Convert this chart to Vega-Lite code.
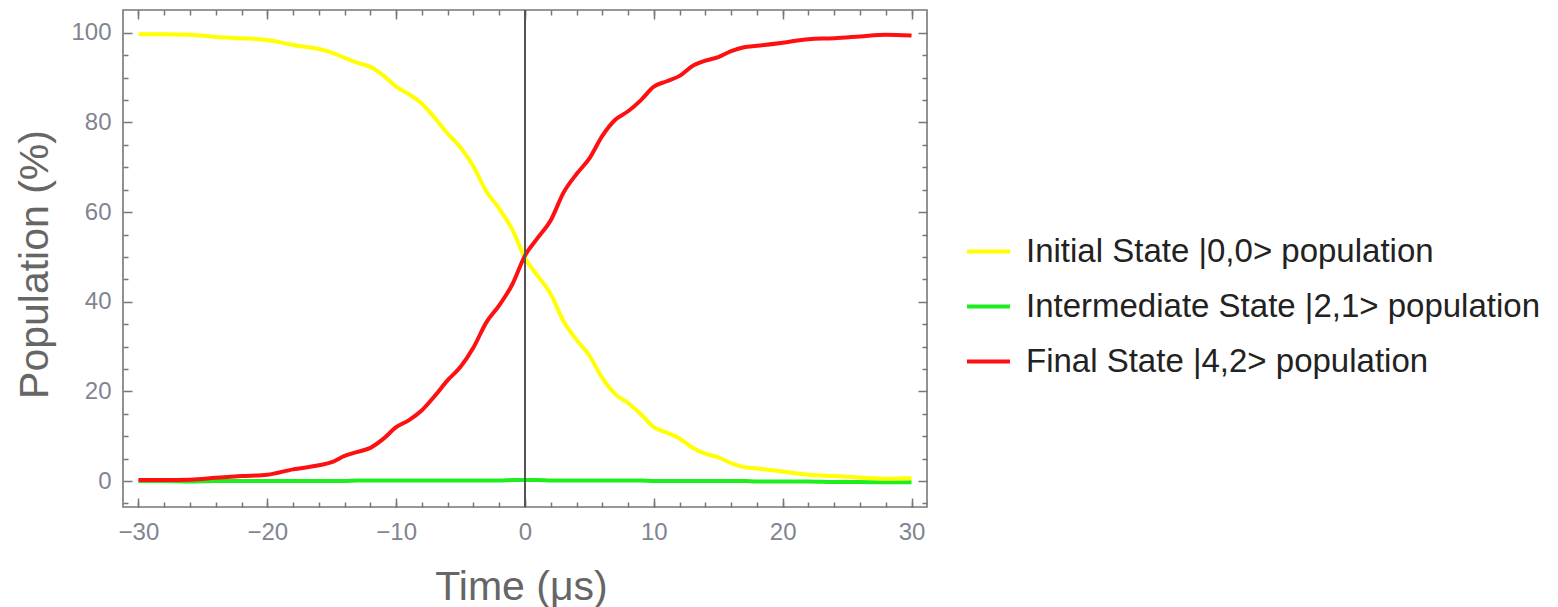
{
  "$schema": "https://vega.github.io/schema/vega-lite/v6.json",
  "width": 804,
  "height": 497,
  "autosize": "none",
  "padding": {"left": 123, "top": 10, "right": 631, "bottom": 100},
  "config": {
    "view": {"stroke": "#777777", "strokeWidth": 1.6},
    "font": "Liberation Sans",
    "axis": {"domain": false, "grid": false, "tickColor": "#777777", "tickWidth": 1.5, "labelFont": "Liberation Sans", "titleFont": "Liberation Sans", "labelColor": "#7f8590", "titleColor": "#666666", "labelFontSize": 24, "titleFontSize": 41, "titleFontWeight": "normal"}
  },
  "datasets": {
    "pop": [
      {"t": -30, "a": 99.7, "b": 0.0, "c": 0.2},
      {"t": -28, "a": 99.7, "b": 0.0, "c": 0.2},
      {"t": -26, "a": 99.6, "b": -0.1, "c": 0.3},
      {"t": -24, "a": 99.1, "b": 0.0, "c": 0.7},
      {"t": -22, "a": 98.8, "b": 0.0, "c": 1.1},
      {"t": -20, "a": 98.4, "b": 0.0, "c": 1.4},
      {"t": -18, "a": 97.3, "b": 0.0, "c": 2.6},
      {"t": -16, "a": 96.4, "b": 0.0, "c": 3.5},
      {"t": -15, "a": 95.6, "b": 0.0, "c": 4.2},
      {"t": -14, "a": 94.4, "b": 0.0, "c": 5.6},
      {"t": -13, "a": 93.3, "b": 0.1, "c": 6.5},
      {"t": -12, "a": 92.4, "b": 0.1, "c": 7.4},
      {"t": -11, "a": 90.5, "b": 0.1, "c": 9.4},
      {"t": -10, "a": 88.0, "b": 0.1, "c": 12.0},
      {"t": -9, "a": 86.3, "b": 0.1, "c": 13.6},
      {"t": -8, "a": 84.2, "b": 0.1, "c": 15.8},
      {"t": -7, "a": 81.0, "b": 0.1, "c": 19.0},
      {"t": -6, "a": 77.5, "b": 0.1, "c": 22.5},
      {"t": -5, "a": 74.4, "b": 0.1, "c": 25.5},
      {"t": -4, "a": 70.2, "b": 0.1, "c": 29.8},
      {"t": -3, "a": 64.6, "b": 0.1, "c": 35.4},
      {"t": -2, "a": 60.8, "b": 0.1, "c": 39.2},
      {"t": -1, "a": 56.2, "b": 0.2, "c": 43.8},
      {"t": 0, "a": 49.8, "b": 0.2, "c": 50.3},
      {"t": 1, "a": 45.7, "b": 0.2, "c": 54.3},
      {"t": 2, "a": 41.7, "b": 0.1, "c": 58.2},
      {"t": 3, "a": 35.6, "b": 0.1, "c": 64.4},
      {"t": 4, "a": 31.5, "b": 0.1, "c": 68.5},
      {"t": 5, "a": 28.0, "b": 0.1, "c": 72.0},
      {"t": 6, "a": 23.0, "b": 0.1, "c": 77.0},
      {"t": 7, "a": 19.4, "b": 0.1, "c": 80.6},
      {"t": 8, "a": 17.4, "b": 0.1, "c": 82.5},
      {"t": 9, "a": 14.9, "b": 0.1, "c": 85.0},
      {"t": 10, "a": 12.0, "b": 0.0, "c": 88.0},
      {"t": 11, "a": 10.8, "b": 0.0, "c": 89.2},
      {"t": 12, "a": 9.5, "b": 0.0, "c": 90.4},
      {"t": 13, "a": 7.4, "b": 0.0, "c": 92.6},
      {"t": 14, "a": 6.1, "b": 0.0, "c": 93.8},
      {"t": 15, "a": 5.3, "b": 0.0, "c": 94.6},
      {"t": 16, "a": 4.0, "b": 0.0, "c": 95.9},
      {"t": 17, "a": 3.1, "b": 0.0, "c": 96.8},
      {"t": 18, "a": 2.8, "b": -0.1, "c": 97.1},
      {"t": 20, "a": 2.1, "b": -0.1, "c": 97.8},
      {"t": 22, "a": 1.4, "b": -0.1, "c": 98.6},
      {"t": 24, "a": 1.1, "b": -0.2, "c": 98.8},
      {"t": 26, "a": 0.8, "b": -0.2, "c": 99.2},
      {"t": 28, "a": 0.5, "b": -0.3, "c": 99.6},
      {"t": 30, "a": 0.6, "b": -0.3, "c": 99.4}
    ]
  },
  "data": {"name": "pop"},
  "transform": [{"fold": ["b", "a", "c"], "as": ["state", "value"]}],
  "layer": [
    {
      "mark": {"type": "line", "strokeWidth": 4, "interpolate": "monotone"},
      "encoding": {
        "x": {"field": "t", "type": "quantitative",
          "scale": {"domain": [-31.2, 31.2], "nice": false, "zero": false},
          "axis": {"orient": "bottom", "values": [-30, -20, -10, 0, 10, 20, 30], "tickSize": -9, "labelPadding": 22, "title": "Time (μs)", "titleBaseline": "alphabetic", "titleY": 92, "titleX": 398}},
        "y": {"field": "value", "type": "quantitative",
          "scale": {"domain": [-5.8, 105.1], "nice": false, "zero": false},
          "axis": {"orient": "left", "values": [0, 20, 40, 60, 80, 100], "tickSize": -9, "labelPadding": 21, "title": "Population (%)", "titleAngle": -90, "titleBaseline": "alphabetic", "titleX": -76, "titleY": 254}},
        "color": {"field": "state", "type": "nominal",
          "scale": {"domain": ["a", "b", "c"], "range": ["#ffff00", "#1eee1e", "#ff1010"]},
          "legend": {"orient": "none", "legendX": 842, "legendY": 218, "title": null, "padding": 0,
            "symbolType": "stroke", "symbolSize": 1849, "symbolStrokeWidth": 4,
            "labelFontSize": 33, "labelFont": "Liberation Sans", "labelColor": "#222222", "labelLimit": 0, "labelOffset": 14, "rowPadding": 14,
            "labelExpr": "datum.label == 'a' ? 'Initial State |0,0> population' : datum.label == 'b' ? 'Intermediate State |2,1> population' : 'Final State |4,2> population'"}}
      }
    },
    {
      "mark": {"type": "line", "strokeOpacity": 0},
      "encoding": {
        "x": {"field": "t", "type": "quantitative", "axis": {"orient": "bottom", "values": [-30, -28, -26, -24, -22, -20, -18, -16, -14, -12, -10, -8, -6, -4, -2, 0, 2, 4, 6, 8, 10, 12, 14, 16, 18, 20, 22, 24, 26, 28, 30], "tickSize": -5, "labels": false, "title": null}},
        "y": {"field": "value", "type": "quantitative", "axis": {"orient": "left", "values": [-5, 5, 10, 15, 25, 30, 35, 45, 50, 55, 65, 70, 75, 85, 90, 95], "tickSize": -5, "labels": false, "title": null}},
        "detail": {"field": "state"}
      }
    },
    {
      "mark": {"type": "line", "strokeOpacity": 0},
      "encoding": {
        "x": {"field": "t", "type": "quantitative", "axis": {"orient": "top", "values": [-30, -20, -10, 0, 10, 20, 30], "tickSize": -9, "labels": false, "title": null}},
        "y": {"field": "value", "type": "quantitative", "axis": {"orient": "right", "values": [0, 20, 40, 60, 80, 100], "tickSize": -9, "labels": false, "title": null}},
        "detail": {"field": "state"}
      }
    },
    {
      "mark": {"type": "line", "strokeOpacity": 0},
      "encoding": {
        "x": {"field": "t", "type": "quantitative", "axis": {"orient": "top", "values": [-30, -28, -26, -24, -22, -20, -18, -16, -14, -12, -10, -8, -6, -4, -2, 0, 2, 4, 6, 8, 10, 12, 14, 16, 18, 20, 22, 24, 26, 28, 30], "tickSize": -5, "labels": false, "title": null}},
        "y": {"field": "value", "type": "quantitative", "axis": {"orient": "right", "values": [-5, 5, 10, 15, 25, 30, 35, 45, 50, 55, 65, 70, 75, 85, 90, 95], "tickSize": -5, "labels": false, "title": null}},
        "detail": {"field": "state"}
      }
    },
    {
      "mark": {"type": "rule", "color": "#555555", "strokeWidth": 1.5},
      "encoding": {"x": {"datum": 0, "type": "quantitative", "axis": null}}
    }
  ],
  "resolve": {"axis": {"x": "independent", "y": "independent"}}
}
